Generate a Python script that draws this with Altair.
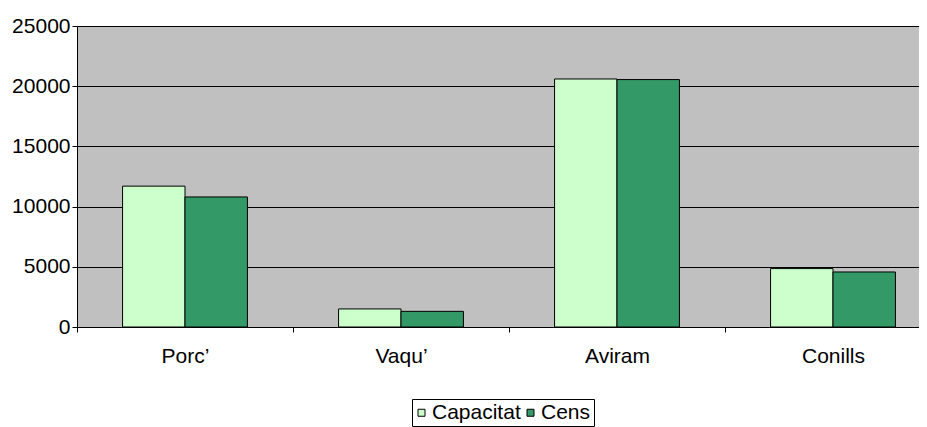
import altair as alt
import pandas as pd

categories = ["Porc’", "Vaqu’", "Aviram", "Conills"]
series = ["Capacitat", "Cens"]
capacitat = [11700, 1500, 20600, 4850]
cens = [10800, 1300, 20550, 4570]
colors = ["#CCFFCC", "#339966"]
y_ticks = [0, 5000, 10000, 15000, 20000, 25000]

rows = []
for c, a, b in zip(categories, capacitat, cens):
    rows.append({"cat": c, "series": series[0], "value": a})
    rows.append({"cat": c, "series": series[1], "value": b})
df = pd.DataFrame(rows)

FONT = "Liberation Sans"
FS = 21

bars = alt.Chart(df).mark_bar(stroke="#000000", strokeWidth=1).encode(
    x=alt.X("cat:N", sort=categories,
            scale=alt.Scale(range=[0, 864], paddingInner=0, paddingOuter=0),
            axis=alt.Axis(title=None, labelAngle=0, tickBand="extent", tickSize=5,
                          labelPadding=13, labelFontSize=FS, labelFont=FONT,
                          labelColor="#000000", domainColor="#000000",
                          tickColor="#000000", grid=False)),
    xOffset=alt.XOffset("series:N", sort=series,
                        scale=alt.Scale(paddingOuter=0.73, paddingInner=0)),
    y=alt.Y("value:Q",
            scale=alt.Scale(domain=[0, 25000], nice=False),
            axis=alt.Axis(title=None, values=y_ticks, format="d", tickSize=5,
                          labelPadding=2, labelFontSize=FS, labelFont=FONT,
                          labelColor="#000000", domainColor="#000000",
                          tickColor="#000000", grid=True, gridColor="#000000",
                          gridOpacity=1, gridWidth=1)),
    color=alt.Color("series:N", sort=series,
                    scale=alt.Scale(domain=series, range=colors),
                    legend=alt.Legend(title=None, orient="none", legendX=335, legendY=373,
                                      direction="horizontal", columns=2,
                                      symbolType="square", symbolSize=49,
                                      symbolStrokeColor="#000000", symbolStrokeWidth=1,
                                      symbolOffset=-4,
                                      labelFontSize=FS, labelFont=FONT, labelColor="#000000",
                                      labelOffset=0, columnPadding=3,
                                      strokeColor="#000000", padding=3,
                                      fillColor="#FFFFFF")),
)

chart = bars.properties(
    width=842, height=301,
    autosize=alt.AutoSizeParams(type="none"),
    padding={"left": 69, "top": 18, "right": 0, "bottom": 100},
    background="#FFFFFF",
).configure_view(fill="#C0C0C0", stroke="transparent")

chart.save("out.html", embed_options={"renderer": "svg", "actions": False})
